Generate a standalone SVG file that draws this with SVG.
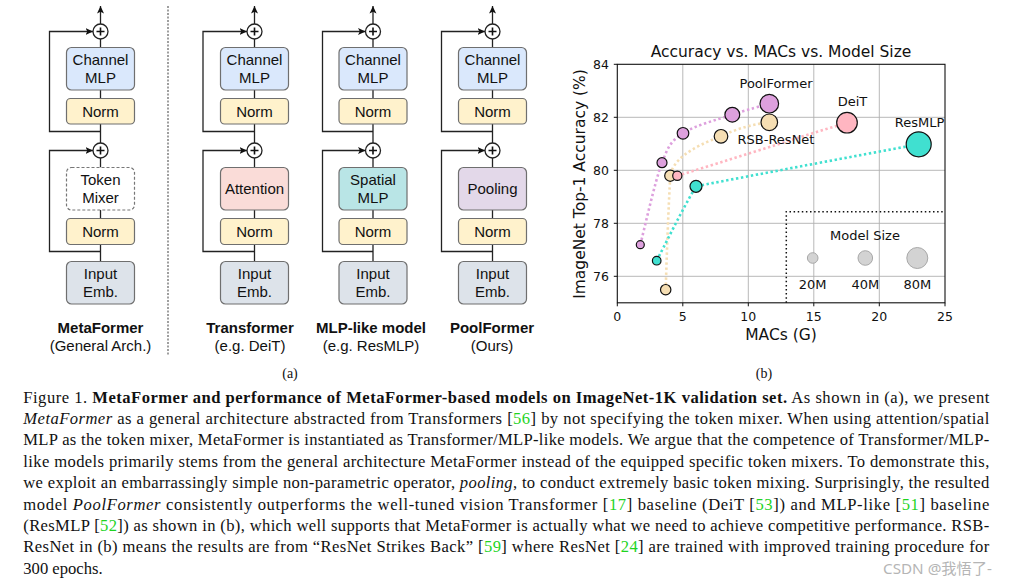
<svg xmlns="http://www.w3.org/2000/svg" width="1009" height="585" viewBox="0 0 1009 585">
<style>
.box{stroke:#6f6f6f;stroke-width:1.2}
.bt{font-family:"Liberation Sans",Arial,sans-serif;font-size:15px;fill:#111;text-anchor:middle}
.lbl{font-family:"Liberation Sans",Arial,sans-serif;font-size:15px;fill:#111;text-anchor:middle}
.ln{fill:none;stroke:#222;stroke-width:1.3}
.pc{fill:#fff;stroke:#222;stroke-width:1.3}
.pl{stroke:#111;stroke-width:1.6}
.ct{font-family:"DejaVu Sans",sans-serif;fill:#111}
.grid{stroke:#b0b0b0;stroke-width:0.9}
.ser{fill:none;stroke-width:2.6;stroke-dasharray:2.4 2.6}
.pt{stroke:#111;stroke-width:1.2}
.cap{font-family:"Liberation Serif","Times New Roman",serif;font-size:16.6px;fill:#111}
.cite{fill:#1fd41f}
</style>
<defs>
<marker id="arr" markerWidth="9" markerHeight="9" refX="7.5" refY="4.5" orient="auto" markerUnits="userSpaceOnUse">
<path d="M0,1 L7.5,4.5 L0,8 L1.8,4.5 z" fill="#111"/>
</marker>
</defs>
<rect width="1009" height="585" fill="#fff"/>

<!-- connectors (a) -->
<g id="connectors">
<g class="ln">
<path d="M100.5,24 V6" marker-end="url(#arr)"/>
<path d="M100.5,39 V47.5 M100.5,90 V98.5 M100.5,124 V143 M100.5,158 V167.5 M100.5,210 V218.5 M100.5,244.5 V261.5"/>
<path d="M100.5,131.5 H49.5 V31.5 H93" marker-end="url(#arr)"/>
<path d="M100.5,251.5 H49.5 V150.5 H93" marker-end="url(#arr)"/>

<path d="M254.5,24 V6" marker-end="url(#arr)"/>
<path d="M254.5,39 V47.5 M254.5,90 V98.5 M254.5,124 V143 M254.5,158 V167.5 M254.5,210 V218.5 M254.5,244.5 V261.5"/>
<path d="M254.5,131.5 H203 V31.5 H247" marker-end="url(#arr)"/>
<path d="M254.5,251.5 H203 V150.5 H247" marker-end="url(#arr)"/>

<path d="M373,24 V6" marker-end="url(#arr)"/>
<path d="M373,39 V47.5 M373,90 V98.5 M373,124 V143 M373,158 V167.5 M373,210 V218.5 M373,244.5 V261.5"/>
<path d="M373,131.5 H322.5 V31.5 H365.5" marker-end="url(#arr)"/>
<path d="M373,251.5 H322.5 V150.5 H365.5" marker-end="url(#arr)"/>

<path d="M492.5,24 V6" marker-end="url(#arr)"/>
<path d="M492.5,39 V47.5 M492.5,90 V98.5 M492.5,124 V143 M492.5,158 V167.5 M492.5,210 V218.5 M492.5,244.5 V261.5"/>
<path d="M492.5,131.5 H441.5 V31.5 H485" marker-end="url(#arr)"/>
<path d="M492.5,251.5 H441.5 V150.5 H485" marker-end="url(#arr)"/>
</g>
</g>

<!-- Column MetaFormer -->
<g id="metaformer">
<g id="mf-add1"><circle class="pc" cx="100.5" cy="31.5" r="7.5"/><path class="pl" d="M96.5,31.5 H104.5 M100.5,27.5 V35.5"/></g>
<g id="mf-cmlp"><rect class="box" x="66.5" y="47.5" width="68" height="42.5" rx="5" fill="#dae8fc"/><text class="bt" x="100.5" y="65">Channel</text><text class="bt" x="100.5" y="83.3">MLP</text></g>
<g id="mf-norm1"><rect class="box" x="66.5" y="98.5" width="68" height="25.5" rx="4" fill="#fff2cc"/><text class="bt" x="100.5" y="116.5">Norm</text></g>
<g id="mf-add2"><circle class="pc" cx="100.5" cy="150.5" r="7.5"/><path class="pl" d="M96.5,150.5 H104.5 M100.5,146.5 V154.5"/></g>
<g id="mf-mixer"><rect x="66.5" y="167.5" width="68" height="42.5" rx="5" fill="#fff" stroke="#777" stroke-width="1.2" stroke-dasharray="3 2"/><text class="bt" x="100.5" y="185">Token</text><text class="bt" x="100.5" y="202.7">Mixer</text></g>
<g id="mf-norm2"><rect class="box" x="66.5" y="218.5" width="68" height="26" rx="4" fill="#fff2cc"/><text class="bt" x="100.5" y="236.5">Norm</text></g>
<g id="mf-input"><rect class="box" x="66.5" y="261.5" width="68" height="42.5" rx="5" fill="#dde3ea"/><text class="bt" x="100.5" y="279">Input</text><text class="bt" x="100.5" y="297">Emb.</text></g>
<text class="lbl" x="100.5" y="332.5" font-weight="bold">MetaFormer</text>
<text class="lbl" x="100.5" y="351">(General Arch.)</text>
</g>

<line x1="168" y1="6" x2="168" y2="355" stroke="#777" stroke-width="1.4" stroke-dasharray="2 1.5"/>

<!-- Column Transformer -->
<g id="transformer">
<g id="tf-add1"><circle class="pc" cx="254.5" cy="31.5" r="7.5"/><path class="pl" d="M250.5,31.5 H258.5 M254.5,27.5 V35.5"/></g>
<g id="tf-cmlp"><rect class="box" x="220.5" y="47.5" width="68" height="42.5" rx="5" fill="#dae8fc"/><text class="bt" x="254.5" y="65">Channel</text><text class="bt" x="254.5" y="83.3">MLP</text></g>
<g id="tf-norm1"><rect class="box" x="220.5" y="98.5" width="68" height="25.5" rx="4" fill="#fff2cc"/><text class="bt" x="254.5" y="116.5">Norm</text></g>
<g id="tf-add2"><circle class="pc" cx="254.5" cy="150.5" r="7.5"/><path class="pl" d="M250.5,150.5 H258.5 M254.5,146.5 V154.5"/></g>
<g id="tf-attn"><rect class="box" x="220.5" y="167.5" width="68" height="42.5" rx="5" fill="#fadcd8"/><text class="bt" x="254.5" y="194">Attention</text></g>
<g id="tf-norm2"><rect class="box" x="220.5" y="218.5" width="68" height="26" rx="4" fill="#fff2cc"/><text class="bt" x="254.5" y="236.5">Norm</text></g>
<g id="tf-input"><rect class="box" x="220.5" y="261.5" width="68" height="42.5" rx="5" fill="#dde3ea"/><text class="bt" x="254.5" y="279">Input</text><text class="bt" x="254.5" y="297">Emb.</text></g>
<text class="lbl" x="250" y="332.5" font-weight="bold">Transformer</text>
<text class="lbl" x="250" y="351">(e.g. DeiT)</text>
</g>

<!-- Column MLP-like -->
<g id="mlplike">
<g id="ml-add1"><circle class="pc" cx="373" cy="31.5" r="7.5"/><path class="pl" d="M369,31.5 H377 M373,27.5 V35.5"/></g>
<g id="ml-cmlp"><rect class="box" x="339" y="47.5" width="68" height="42.5" rx="5" fill="#dae8fc"/><text class="bt" x="373" y="65">Channel</text><text class="bt" x="373" y="83.3">MLP</text></g>
<g id="ml-norm1"><rect class="box" x="339" y="98.5" width="68" height="25.5" rx="4" fill="#fff2cc"/><text class="bt" x="373" y="116.5">Norm</text></g>
<g id="ml-add2"><circle class="pc" cx="373" cy="150.5" r="7.5"/><path class="pl" d="M369,150.5 H377 M373,146.5 V154.5"/></g>
<g id="ml-smlp"><rect class="box" x="339" y="167.5" width="68" height="42.5" rx="5" fill="#b9e5e6"/><text class="bt" x="373" y="185">Spatial</text><text class="bt" x="373" y="202.7">MLP</text></g>
<g id="ml-norm2"><rect class="box" x="339" y="218.5" width="68" height="26" rx="4" fill="#fff2cc"/><text class="bt" x="373" y="236.5">Norm</text></g>
<g id="ml-input"><rect class="box" x="339" y="261.5" width="68" height="42.5" rx="5" fill="#dde3ea"/><text class="bt" x="373" y="279">Input</text><text class="bt" x="373" y="297">Emb.</text></g>
<text class="lbl" x="371" y="332.5" font-weight="bold">MLP-like model</text>
<text class="lbl" x="371" y="351">(e.g. ResMLP)</text>
</g>

<!-- Column PoolFormer -->
<g id="poolformer">
<g id="pf-add1"><circle class="pc" cx="492.5" cy="31.5" r="7.5"/><path class="pl" d="M488.5,31.5 H496.5 M492.5,27.5 V35.5"/></g>
<g id="pf-cmlp"><rect class="box" x="458.5" y="47.5" width="68" height="42.5" rx="5" fill="#dae8fc"/><text class="bt" x="492.5" y="65">Channel</text><text class="bt" x="492.5" y="83.3">MLP</text></g>
<g id="pf-norm1"><rect class="box" x="458.5" y="98.5" width="68" height="25.5" rx="4" fill="#fff2cc"/><text class="bt" x="492.5" y="116.5">Norm</text></g>
<g id="pf-add2"><circle class="pc" cx="492.5" cy="150.5" r="7.5"/><path class="pl" d="M488.5,150.5 H496.5 M492.5,146.5 V154.5"/></g>
<g id="pf-pool"><rect class="box" x="458.5" y="167.5" width="68" height="42.5" rx="5" fill="#e3d8e9"/><text class="bt" x="492.5" y="194">Pooling</text></g>
<g id="pf-norm2"><rect class="box" x="458.5" y="218.5" width="68" height="26" rx="4" fill="#fff2cc"/><text class="bt" x="492.5" y="236.5">Norm</text></g>
<g id="pf-input"><rect class="box" x="458.5" y="261.5" width="68" height="42.5" rx="5" fill="#dde3ea"/><text class="bt" x="492.5" y="279">Input</text><text class="bt" x="492.5" y="297">Emb.</text></g>
<text class="lbl" x="492" y="332.5" font-weight="bold">PoolFormer</text>
<text class="lbl" x="492" y="351">(Ours)</text>
</g>

<text x="290" y="378" font-family="'Liberation Serif',serif" font-size="14" text-anchor="middle" fill="#111">(a)</text>

<!-- Chart (b) -->
<g id="chart">
<g class="grid">
<line x1="682.8" y1="64.3" x2="682.8" y2="302.8"/>
<line x1="748.3" y1="64.3" x2="748.3" y2="302.8"/>
<line x1="813.8" y1="64.3" x2="813.8" y2="302.8"/>
<line x1="879.3" y1="64.3" x2="879.3" y2="302.8"/>
<line x1="617.3" y1="276.3" x2="945" y2="276.3"/>
<line x1="617.3" y1="223.3" x2="945" y2="223.3"/>
<line x1="617.3" y1="170.3" x2="945" y2="170.3"/>
<line x1="617.3" y1="117.3" x2="945" y2="117.3"/>
</g>
<rect x="617.3" y="64.3" width="327.7" height="238.5" fill="none" stroke="#111" stroke-width="1.1"/>
<g stroke="#111" stroke-width="1">
<path d="M617.3,64.3 h-3.5 M617.3,117.3 h-3.5 M617.3,170.3 h-3.5 M617.3,223.3 h-3.5 M617.3,276.3 h-3.5"/>
<path d="M617.3,302.8 v3.5 M682.8,302.8 v3.5 M748.3,302.8 v3.5 M813.8,302.8 v3.5 M879.3,302.8 v3.5 M945,302.8 v3.5"/>
</g>
<g class="ct" font-size="12.5" text-anchor="end">
<text x="609" y="69">84</text><text x="609" y="122">82</text><text x="609" y="175">80</text><text x="609" y="228">78</text><text x="609" y="281">76</text>
</g>
<g class="ct" font-size="12.5" text-anchor="middle">
<text x="617.3" y="320.5">0</text><text x="682.8" y="320.5">5</text><text x="748.3" y="320.5">10</text><text x="813.8" y="320.5">15</text><text x="879.3" y="320.5">20</text><text x="945" y="320.5">25</text>
</g>
<text class="ct" x="781" y="57.3" font-size="15.5" text-anchor="middle">Accuracy vs. MACs vs. Model Size</text>
<text class="ct" x="781" y="339.5" font-size="15.5" text-anchor="middle">MACs (G)</text>
<text class="ct" transform="translate(584.5,184) rotate(-90)" font-size="15.5" text-anchor="middle">ImageNet Top-1 Accuracy (%)</text>

<!-- legend box -->
<path d="M786.3,302.8 V211.7 H945" fill="none" stroke="#111" stroke-width="1.5" stroke-dasharray="1.5 2.6"/>
<text class="ct" x="865" y="239.5" font-size="13" text-anchor="middle">Model Size</text>
<circle cx="812.7" cy="258" r="5.3" fill="#d3d3d3" stroke="#a8a8a8" stroke-width="1"/>
<circle cx="865.3" cy="258" r="7.3" fill="#d3d3d3" stroke="#a8a8a8" stroke-width="1"/>
<circle cx="917.3" cy="258" r="10.5" fill="#d3d3d3" stroke="#a8a8a8" stroke-width="1"/>
<g class="ct" font-size="13" text-anchor="middle">
<text x="812.7" y="289">20M</text><text x="865.3" y="289">40M</text><text x="917.3" y="289">80M</text>
</g>

<!-- series lines -->
<path class="ser" stroke="#dda0dd" d="M640.3,244.7 C643.9,231 654.9,181.3 662,162.7 C669.1,144.1 671.3,141.3 683,133.3 C694.7,125.3 717.9,119.6 732.3,114.7 C746.7,109.8 763.1,105.5 769.3,103.7"/>
<path class="ser" stroke="#f5deb3" d="M665.7,289.7 C666.5,262 668.5,205 670.3,175.7 C673,160 690,148 721,136.3 C737.5,128 755,124 769.3,122.3"/>
<path class="ser" stroke="#ffb6c1" d="M677.3,175.7 C730,160 790,140 847,122.7"/>
<path class="ser" stroke="#40e0d0" d="M656.7,260.7 C663.2,248.3 682,210 696,186.3 C770,172 850,157 918.7,144.3"/>

<!-- series points -->
<g class="pt">
<circle cx="640.3" cy="244.7" r="4" fill="#dda0dd"/>
<circle cx="662" cy="162.7" r="5" fill="#dda0dd"/>
<circle cx="683" cy="133.3" r="5.8" fill="#dda0dd"/>
<circle cx="732.3" cy="114.7" r="7.4" fill="#dda0dd"/>
<circle cx="769.3" cy="103.7" r="9.3" fill="#dda0dd"/>
<circle cx="665.7" cy="289.7" r="5.2" fill="#f5deb3"/>
<circle cx="670.3" cy="175.7" r="5.6" fill="#f5deb3"/>
<circle cx="721" cy="136.3" r="6.8" fill="#f5deb3"/>
<circle cx="769.3" cy="122.3" r="8.3" fill="#f5deb3"/>
<circle cx="677.3" cy="175.7" r="4.6" fill="#ffb6c1"/>
<circle cx="847" cy="122.7" r="10.3" fill="#ffb6c1"/>
<circle cx="656.7" cy="260.7" r="4.3" fill="#40e0d0"/>
<circle cx="696" cy="186.3" r="6" fill="#40e0d0"/>
<circle cx="918.7" cy="144.3" r="12.5" fill="#40e0d0"/>
</g>
<g class="ct" font-size="13" text-anchor="middle">
<text x="776" y="88.3">PoolFormer</text>
<text x="852.5" y="106">DeiT</text>
<text x="919.5" y="126.7">ResMLP</text>
<text x="776" y="144.3">RSB-ResNet</text>
</g>
</g>
<text x="764" y="377.5" font-family="'Liberation Serif',serif" font-size="14" text-anchor="middle" fill="#111">(b)</text>

<!-- caption -->
<g id="caption" class="cap">
<text x="23.3" y="402.5" textLength="966" lengthAdjust="spacing">Figure 1. <tspan font-weight="bold">MetaFormer and performance of MetaFormer-based models on ImageNet-1K validation set.</tspan> As shown in (a), we present</text>
<text x="23.3" y="423.9" textLength="966" lengthAdjust="spacing"><tspan font-style="italic">MetaFormer</tspan> as a general architecture abstracted from Transformers [<tspan class="cite">56</tspan>] by not specifying the token mixer. When using attention/spatial</text>
<text x="23.3" y="445.3" textLength="966" lengthAdjust="spacing">MLP as the token mixer, MetaFormer is instantiated as Transformer/MLP-like models. We argue that the competence of Transformer/MLP-</text>
<text x="23.3" y="466.7" textLength="966" lengthAdjust="spacing">like models primarily stems from the general architecture MetaFormer instead of the equipped specific token mixers. To demonstrate this,</text>
<text x="23.3" y="488.1" textLength="966" lengthAdjust="spacing">we exploit an embarrassingly simple non-parametric operator, <tspan font-style="italic">pooling</tspan>, to conduct extremely basic token mixing. Surprisingly, the resulted</text>
<text x="23.3" y="509.5" textLength="966" lengthAdjust="spacing">model <tspan font-style="italic">PoolFormer</tspan> consistently outperforms the well-tuned vision Transformer [<tspan class="cite">17</tspan>] baseline (DeiT [<tspan class="cite">53</tspan>]) and MLP-like [<tspan class="cite">51</tspan>] baseline</text>
<text x="23.3" y="530.9" textLength="966" lengthAdjust="spacing">(ResMLP [<tspan class="cite">52</tspan>]) as shown in (b), which well supports that MetaFormer is actually what we need to achieve competitive performance. RSB-</text>
<text x="23.3" y="552.3" textLength="966" lengthAdjust="spacing">ResNet in (b) means the results are from “ResNet Strikes Back” [<tspan class="cite">59</tspan>] where ResNet [<tspan class="cite">24</tspan>] are trained with improved training procedure for</text>
<text x="23.3" y="573.7">300 epochs.</text>
</g>
<text x="883" y="574" font-family="'Noto Sans','Noto Sans CJK SC',sans-serif" font-size="15" fill="#b5b5b5" textLength="109" lengthAdjust="spacingAndGlyphs">CSDN @我悟了-</text>
</svg>
